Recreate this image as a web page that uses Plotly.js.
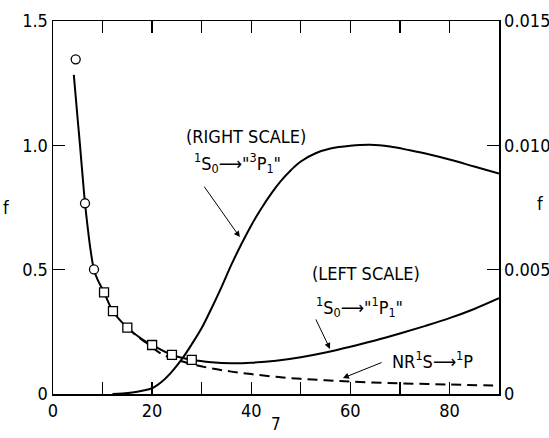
<!DOCTYPE html>
<html>
<head>
<meta charset="utf-8">
<script src="https://cdn.plot.ly/plotly-3.0.1.min.js"></script>
<style>html,body{margin:0;padding:0;background:#fff;}#chart{width:549px;height:438px;}</style>
</head>
<body>
<div id="chart"></div>
<script>
// 1S0 -> "1P1" (left scale), solid line
var singletX = [4.2, 5, 5.45, 6, 6.46, 7, 7.5, 8.27, 9, 10.3, 12.1, 15, 18, 20, 24, 28, 32, 36, 40, 45, 50, 55, 60, 65, 70, 75, 80, 85, 90];
var singletF = [1.283, 1.10, 1.0, 0.87, 0.767, 0.67, 0.59, 0.50, 0.46, 0.409, 0.333, 0.267, 0.22, 0.197, 0.157, 0.138, 0.128, 0.124, 0.126, 0.134, 0.148, 0.167, 0.19, 0.215, 0.243, 0.273, 0.305, 0.342, 0.385];
// NR 1S -> 1P (left scale), dashed line
var nrX = [15, 17, 19, 22, 25, 28, 32, 36, 40, 45, 50, 55, 60, 70, 80, 90];
var nrF = [0.267, 0.232, 0.203, 0.16, 0.138, 0.12, 0.103, 0.09, 0.08, 0.069, 0.061, 0.055, 0.05, 0.043, 0.038, 0.034];
// 1S0 -> "3P1" (right scale)
var tripletX = [12, 14, 16, 18, 20, 22, 24, 26, 28, 30, 32, 34, 36, 38, 40, 42, 44, 46, 48, 50, 53, 56, 60, 64, 68, 72, 76, 80, 85, 90];
var tripletF = [0, 0.00002, 0.00006, 0.00013, 0.00023, 0.0005, 0.0009, 0.0014, 0.002, 0.00265, 0.00345, 0.0043, 0.0052, 0.00602, 0.00678, 0.00745, 0.00805, 0.00857, 0.009, 0.00935, 0.00968, 0.00987, 0.00998, 0.01002, 0.00995, 0.0098, 0.00963, 0.00943, 0.00915, 0.00887];
// measured points
var circleX = [4.58, 6.46, 8.27];
var circleF = [1.346, 0.767, 0.501];
var squareX = [10.3, 12.1, 15, 20, 24, 28];
var squareF = [0.409, 0.333, 0.267, 0.197, 0.157, 0.137];
// tick labels
var xTickVals = [0, 20, 40, 60, 80];
var xTickText = ['0', '20', '40', '60', '80'];
var yLeftVals = [0, 0.5, 1.0, 1.5];
var yLeftText = ['0', '0.5', '1.0', '1.5'];
var yRightVals = [0, 0.005, 0.010, 0.015];
var yRightText = ['0', '0.005', '0.010', '0.015'];

var FONT = '"Liberation Sans Narrow", "DejaVu Sans Condensed", "Liberation Sans", sans-serif';

var traces = [
  {x: nrX, y: nrF, mode: 'lines', line: {color: '#000', width: 2, dash: '10px,6px', shape: 'spline'}, yaxis: 'y', hoverinfo: 'skip'},
  {x: singletX, y: singletF, mode: 'lines', line: {color: '#000', width: 2, shape: 'spline'}, yaxis: 'y', hoverinfo: 'skip'},
  {x: tripletX, y: tripletF, mode: 'lines', line: {color: '#000', width: 2, shape: 'spline'}, yaxis: 'y2', hoverinfo: 'skip'},
  {x: circleX, y: circleF, mode: 'markers', marker: {symbol: 'circle', size: 9, color: '#fff', line: {color: '#000', width: 1.3}}, yaxis: 'y'},
  {x: squareX, y: squareF, mode: 'markers', marker: {symbol: 'square', size: 9, color: '#fff', line: {color: '#000', width: 1.3}}, yaxis: 'y'}
];

function arrow(hx, hy, tx, ty) {
  return {x: hx, y: hy, ax: tx, ay: ty, xref: 'x', yref: 'y', axref: 'x', ayref: 'y',
    text: '', showarrow: true, arrowhead: 2, arrowsize: 1.2, arrowwidth: 1, arrowcolor: '#000'};
}
function label(x, y, text) {
  return {x: x, y: y, xref: 'x', yref: 'y', text: text, showarrow: false,
    font: {family: FONT, size: 18, color: '#000'}, xanchor: 'center', yanchor: 'middle'};
}

var layout = {
  width: 549, height: 438,
  margin: {l: 53, r: 50, t: 21, b: 44},
  paper_bgcolor: '#fff', plot_bgcolor: '#fff',
  showlegend: false,
  font: {family: FONT, size: 18, color: '#000'},
  xaxis: {range: [0, 90], tickmode: 'array', tickvals: xTickVals, ticktext: xTickText,
    ticks: 'inside', ticklen: 12, tickwidth: 1.3, tickcolor: '#000',
    minor: {tickmode: 'linear', tick0: 0, dtick: 10, ticks: 'inside', ticklen: 12, tickwidth: 1.3, tickcolor: '#000', showgrid: false},
    showline: true, linewidth: 1.5, linecolor: '#000', mirror: 'ticks',
    showgrid: false, zeroline: false, tickfont: {family: FONT, size: 18}, ticklabelstandoff: 0},
  yaxis: {range: [0, 1.5], tickmode: 'array', tickvals: yLeftVals, ticktext: yLeftText,
    ticks: 'inside', ticklen: 12, tickwidth: 1.3, tickcolor: '#000',
    showline: true, linewidth: 1.5, linecolor: '#000', mirror: true,
    showgrid: false, zeroline: false, tickfont: {family: FONT, size: 18}, ticklabelstandoff: 0},
  yaxis2: {range: [0, 0.015], overlaying: 'y', side: 'right', tickmode: 'array', tickvals: yRightVals, ticktext: yRightText,
    ticks: 'inside', ticklen: 12, tickwidth: 1.3, tickcolor: '#000',
    showline: true, linewidth: 1.5, linecolor: '#000',
    showgrid: false, zeroline: false, tickfont: {family: FONT, size: 18}, ticklabelstandoff: 0},
  annotations: [
    label(38.9, 1.037, '(RIGHT SCALE)'),
    label(37.3, 0.93, '<sup>1</sup>S<sub>0</sub>⟶"<sup>3</sup>P<sub>1</sub>"'),
    arrow(37.7, 0.631, 30.3, 0.84),
    label(63.2, 0.483, '(LEFT SCALE)'),
    label(61.9, 0.35, '<sup>1</sup>S<sub>0</sub>⟶"<sup>1</sup>P<sub>1</sub>"'),
    arrow(55.9, 0.181, 52.9, 0.306),
    label(76.5, 0.137, 'NR<sup>1</sup>S⟶<sup>1</sup>P'),
    arrow(58.5, 0.064, 66.6, 0.129),
    {x: -0.105, y: 0.50, xref: 'paper', yref: 'paper', xanchor: 'center', yanchor: 'middle', text: 'f', showarrow: false, font: {family: FONT, size: 18}},
    {x: 1.094, y: 0.51, xref: 'paper', yref: 'paper', xanchor: 'center', yanchor: 'middle', text: 'f', showarrow: false, font: {family: FONT, size: 18}},
    {x: 0.5, y: -0.08, xref: 'paper', yref: 'paper', xanchor: 'center', yanchor: 'middle', text: '7', showarrow: false, font: {family: FONT, size: 17}}
  ]
};

Plotly.newPlot('chart', traces, layout, {staticPlot: true, displayModeBar: false});
</script>
</body>
</html>
